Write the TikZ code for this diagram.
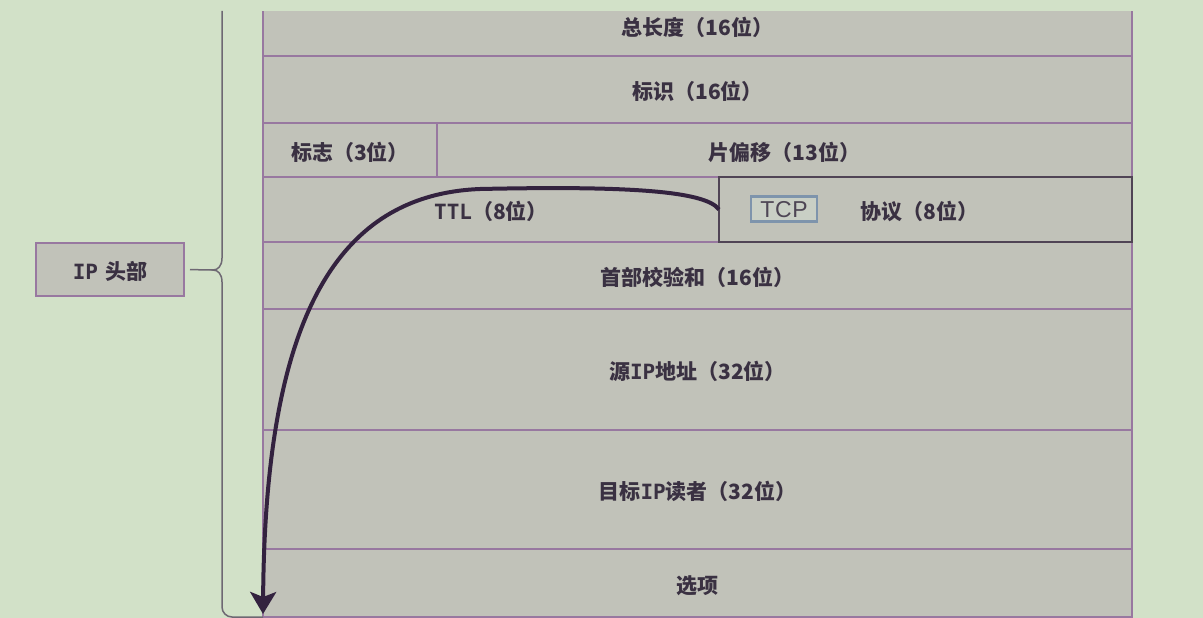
\documentclass[tikz,border=0pt]{standalone}
\usepackage{fontspec}
\setmainfont{Noto Sans CJK SC}
\newfontfamily\sketchmono{DejaVu Sans Mono}
\newfontfamily\tcpfont[LetterSpace=3]{Liberation Sans}
\usetikzlibrary{arrows.meta}
\definecolor{bgreen}{HTML}{D2E1C8}
\definecolor{cellgray}{HTML}{C1C2B9}
\definecolor{linepurple}{HTML}{9878A0}
\definecolor{darkline}{HTML}{504455}
\definecolor{inkdark}{HTML}{3A3142}
\definecolor{arrowink}{HTML}{33223F}
\definecolor{tcpblue}{HTML}{7E94AC}
\definecolor{tcpfill}{HTML}{C9CFC5}
\definecolor{bracegray}{HTML}{6E6873}

\begin{document}
\begin{tikzpicture}[x=1pt,y=-1pt,
		cell/.style={draw=linepurple,fill=cellgray,line width=1.4pt,inner sep=0pt,outer sep=0pt,
			text height=20pt,text depth=0pt,text=inkdark,font=\fontsize{21}{24}\selectfont\bfseries},
		protocell/.style={cell,draw=darkline},
		tcpbox/.style={draw=tcpblue,fill=tcpfill,line width=2.6pt,minimum width=66pt,minimum height=25pt,
			inner sep=0pt,text height=16pt,text depth=0pt,text=inkdark!90,font=\tcpfont\fontsize{23}{25}\selectfont},
		ipbox/.style={cell,minimum width=148pt,minimum height=53pt},
		brace/.style={draw=bracegray,line width=1.5pt}]
	\useasboundingbox (0,0) rectangle (1203,618);
	\fill[bgreen] (0,0) rectangle (1203,618);
	\begin{scope}
		\clip (0,11.8) rectangle (1203,618);
		\node[cell,minimum width=869pt,minimum height=60pt] (len) at (697.5,26) {总长度（16位）};
		\node[cell,minimum width=869pt,minimum height=67pt] (ident) at (697.5,89.5) {标识（16位）};
		\node[cell,minimum width=174pt,minimum height=54pt] (flags) at (350,150) {标志（3位）};
		\node[cell,minimum width=695pt,minimum height=54pt] (offset) at (784.5,150) {片偏移（13位）};
		\node[cell,minimum width=456pt,minimum height=65pt] (ttl) at (491,209.5) {{\sketchmono TTL}（8位）};
		\node[cell,minimum width=869pt,minimum height=67pt] (csum) at (697.5,275.5) {首部校验和（16位）};
		\node[cell,minimum width=869pt,minimum height=121pt] (src) at (697.5,369.5) {源{\sketchmono IP}地址（32位）};
		\node[cell,minimum width=869pt,minimum height=119pt] (dst) at (697.5,489.5) {目标{\sketchmono IP}读者（32位）};
		\node[cell,minimum width=869pt,minimum height=68pt] (opts) at (697.5,583) {选项};
		\node[protocell,minimum width=413pt,minimum height=65pt] (proto) at (925.5,209.5) {\hspace{-12pt}协议（8位）};
	\end{scope}
	\node[tcpbox] (tcp) at (784,209) {TCP};

	\draw[arrowink,line width=4pt,-{Stealth[length=22pt,width=26pt,inset=5pt]}]
		(proto.west) .. controls (705,190) and (620,186) .. (480,189)
		.. controls (330,195) and (265,330) .. ([yshift=3pt]opts.south west);

	\node[ipbox,font=\fontsize{21}{24}\selectfont\bfseries] (ip) at (110,269.5) {{\sketchmono IP}\hspace{7pt}头部};
	\coordinate (tip) at (213,270);
	\draw[brace] (222,11) -- (222,258) .. controls (222,266) and (218,270) .. (tip)
		.. controls (218,270) and (222,274) .. (222,282)
		[rounded corners=10pt] -- (222,617) -- (263,617);
	\draw[brace,shorten <=6pt] (ip.east) -- (tip);
\end{tikzpicture}
\end{document}
